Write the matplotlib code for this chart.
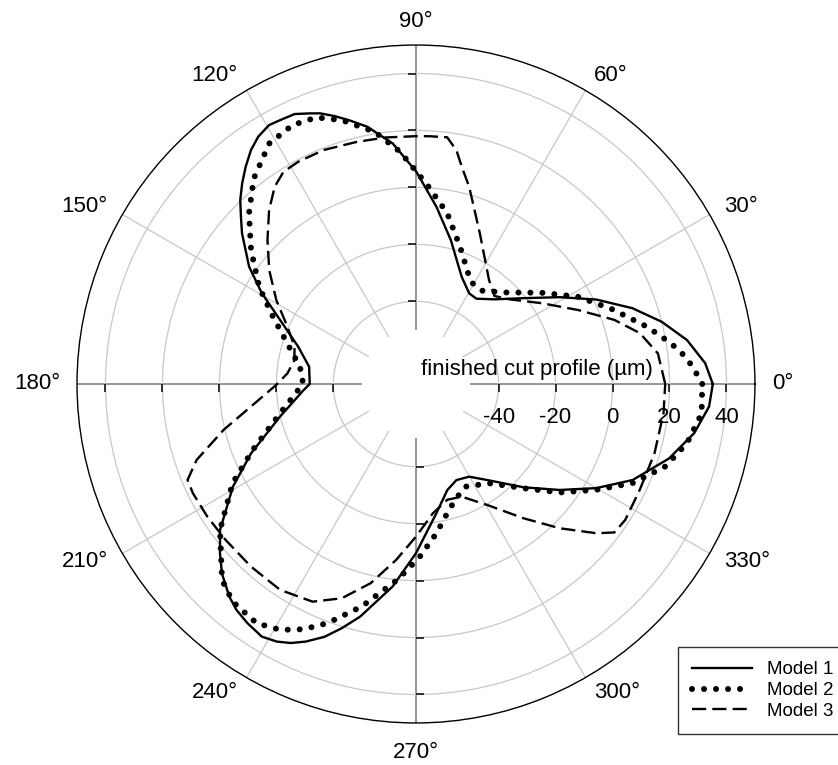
import numpy as np
import matplotlib.pyplot as plt
from matplotlib.lines import Line2D

plt.rcParams['font.family'] = ['Liberation Sans', 'DejaVu Sans']

# Model 1 (solid) - angle in degrees, finished cut profile in um
ang1 = [0, 4.1, 9.2, 14.2, 19.3, 25.1, 31.1, 38.6, 47.2, 54.7, 59.6, 66.9, 76.4, 83.4,
        89.9, 95.5, 100.7, 104.2, 106.9, 109.5, 111.5, 114.2, 117.3, 119.6, 122.5,
        125.2, 128.1, 130.9, 133.7, 136.3, 139.1, 144.9,
        149.5, 154.8, 162.4, 170.8, 180, 183.1, 193.5, 202.8, 209.3, 216.7, 220.8, 224.3,
        228.7, 231.5, 234.8, 238.6, 241.6, 244.2, 246.8, 250.1, 253.1, 256.5, 263.4,
        270, 279, 286.5, 292.8, 299.8,
        306.6, 316.2, 323.6, 330, 336.1, 343.6, 350, 355.6, 360]
val1 = [35.2, 32.8, 27.4, 20.0, 11.5, 0.9, -10.0, -20.7, -28.5, -32.3, -32.1, -28.1, -17.0, -6.4,
        5.5, 15.8, 22.9, 26.5, 29.3, 31.8, 33.1, 34.9, 35.2, 35.5, 34.0,
        31.5, 27.9, 24.2, 20.3, 16.0, 11.8, 2.6,
        -6.2, -16.3, -25.6, -31.0, -31.7, -29.5, -19.9, -6.2, 4.7, 16.8, 21.9, 26.2,
        30.3, 32.3, 33.7, 34.9, 33.8, 32.0, 29.4, 25.4, 20.6, 15.0, 2.6,
        -9.6, -23.1, -30.2, -32.4, -31.5,
        -27.0, -16.6, -6.3, 4.1, 14.2, 23.6, 30.2, 34.2, 35.2]

# Model 2 (dotted)
ang2 = [0, 3.6, 6.2, 9.1, 13.9, 20.8, 28.3, 36, 45.7, 54.8, 61.8, 72.2, 79.6, 86.7,
        93.9, 99.3, 105.7, 110.5, 115.5, 121.4, 128.3, 134.4, 140.9, 148.2, 154.8,
        162.5, 171.5, 180, 182.9, 192.2, 202, 208.4, 216.7, 225.3, 229.9, 236.3,
        241.1, 245.4, 249.7, 256.3, 264.8, 271.3, 277.8, 284.7, 289.5, 295.7, 306.4,
        315.9, 323, 329.6, 335.4, 341.7, 347.7, 354.1, 360]
val2 = [31.5, 28.3, 25.5, 21.6, 14.6, 4.8, -4.4, -14.5, -24.1, -28.9, -28.3, -18.4, -8.1, 0.9,
        12.7, 20.7, 27.2, 30.9, 31.7, 29.9, 22.9, 14.8, 5.6, -4.2, -13.5,
        -21.6, -27.8, -29.4, -27.6, -20.2, -7.2, 4.2, 16.8, 27.8, 30.9, 31.9,
        29.6, 25.7, 20.5, 11.4, -0.2, -8.4, -16.1, -23.3, -26.5, -29.0, -25.7,
        -16.4, -5.7, 4.4, 14.6, 23.2, 28.4, 31.8, 31.5]

# Model 3 (dashed)
ang3 = [0, 7.2, 12.8, 17.9, 24.5, 32.7, 42.3, 48.3, 54.9, 67, 74.9, 77.9, 80.2, 82.8,
        87, 90, 97, 103.8, 111.5, 117.9, 122, 125.6, 130.2, 135.9, 142.2, 149, 156,
        162.9, 169, 175.3, 180.3, 187.8, 193.4, 199.1, 202.8, 206.1, 212.4, 219.3,
        227.9, 236.6, 244.6, 250.9, 257.2, 263.6, 270, 277.4, 285.1, 292.1, 300.5,
        308.7, 314.9, 320.4, 323.2, 327, 334.7, 343.8, 353.3, 360]
val3 = [18.5, 16.6, 11.6, 4.2, -6.4, -16.5, -24.8, -27.6, -24.4, -11.6, 2.7, 8.5, 14.3, 18.3,
        18.1, 18.0, 18.2, 18.5, 19.3, 19.3, 18.8, 16.2, 10.9, 3.6, -3.8, -11.8, -19.6,
        -24.4, -25.5, -23.7, -20.0, -10.5, 0.4, 12.5, 18.0, 18.2, 17.8, 17.4,
        17.4, 17.6, 15.6, 10.6, 2.7, -6.9, -15.4, -23.2, -26.9, -26.3, -19.7,
        -8.6, 2.5, 13.2, 18.0, 18.6, 17.9, 18.2, 18.5, 18.5]

ring_vals = [-40, -20, 0, 20, 40]
angle_ticks = list(range(0, 360, 30))
angle_labels = [f'{a}°' for a in angle_ticks]

fig = plt.figure(figsize=(8.38, 7.65), dpi=100)
ax = fig.add_axes([0.0919, 0.0549, 0.809, 0.8863], projection='polar')
ax.set_rorigin(-69)
ax.set_rlim(-50, 50)
ax.set_xticks(np.radians(angle_ticks))
ax.set_xticklabels([])
ax.set_yticks(ring_vals)
ax.set_yticklabels([])
ax.tick_params(axis='y', length=0)
ax.tick_params(axis='x', direction='out', length=6, width=0.8, color='black')
ax.grid(True, color='#c8c8c8', lw=0.9)
for a, t in zip(angle_ticks, ax.xaxis.get_major_ticks()):
    if a % 90 == 0:
        t.gridline.set_color('#8c8c8c')
        t.gridline.set_linewidth(1.3)
ax.spines['polar'].set_linewidth(1.0)
ax.spines['inner'].set_color('none')
ax.spines['inner'].set_linewidth(0)

# angle labels just outside the outer circle
for a, lab in zip(angle_ticks, angle_labels):
    c, s = np.cos(np.radians(a)), np.sin(np.radians(a))
    ha = 'left' if c > 0.1 else ('right' if c < -0.1 else 'center')
    va = 'baseline' if s > 0.9 else ('top' if s < -0.9 else 'center')
    g = 17 if abs(s) < 0.9 else (18 if s > 0 else 19)
    ax.annotate(lab, xy=(np.radians(a), 50), xytext=(g * c, g * s),
                textcoords='offset pixels', ha=ha, va=va, fontsize=16,
                annotation_clip=False)

# small tick marks on the axis lines
tick_style = dict(ls='none', ms=6, mec='black', mew=1.1, zorder=3, clip_on=False)
ax.plot(np.zeros(len(ring_vals)), ring_vals, marker=3, **tick_style)
ax.plot(np.full(len(ring_vals), np.pi), ring_vals, marker=3, **tick_style)
ax.plot(np.full(len(ring_vals), np.pi / 2), ring_vals, marker=0, **tick_style)
ax.plot(np.full(len(ring_vals), 3 * np.pi / 2), ring_vals, marker=1, **tick_style)

for v in ring_vals:
    ax.annotate(str(v), xy=(0, v), xytext=(0, -34), textcoords='offset pixels',
                ha='center', va='center', fontsize=16, annotation_clip=False)
ax.annotate('finished cut profile (µm)', xy=(0, -26.5), xytext=(0, 4),
            textcoords='offset pixels', ha='center', va='bottom', fontsize=16,
            annotation_clip=False)

solid = dict(color='black', lw=1.7, ls='-')
dotted = dict(color='black', lw=4.3, ls=(0, (0.01, 2.0)), dash_capstyle='round')
dashed = dict(color='black', lw=1.7, ls=(0, (6, 2.6)))

ax.plot(np.radians(ang1), val1, zorder=4, **solid)
ax.plot(np.radians(ang2), val2, zorder=4, **dotted)
ax.plot(np.radians(ang3), val3, zorder=4, **dashed)

handles = [Line2D([], [], **solid), Line2D([], [], **dotted), Line2D([], [], **dashed)]
leg = fig.legend(handles, ['Model 1', 'Model 2', 'Model 3'], loc='upper left',
                 bbox_to_anchor=(678 / 838, 1 - 647 / 765), bbox_transform=fig.transFigure,
                 borderaxespad=0, fontsize=13.5, handlelength=3.2, handletextpad=0.8,
                 labelspacing=0.2, borderpad=0.75, fancybox=False, framealpha=1,
                 edgecolor='#333333')
leg.get_frame().set_linewidth(1.0)

fig.savefig('out.png', dpi=100)
